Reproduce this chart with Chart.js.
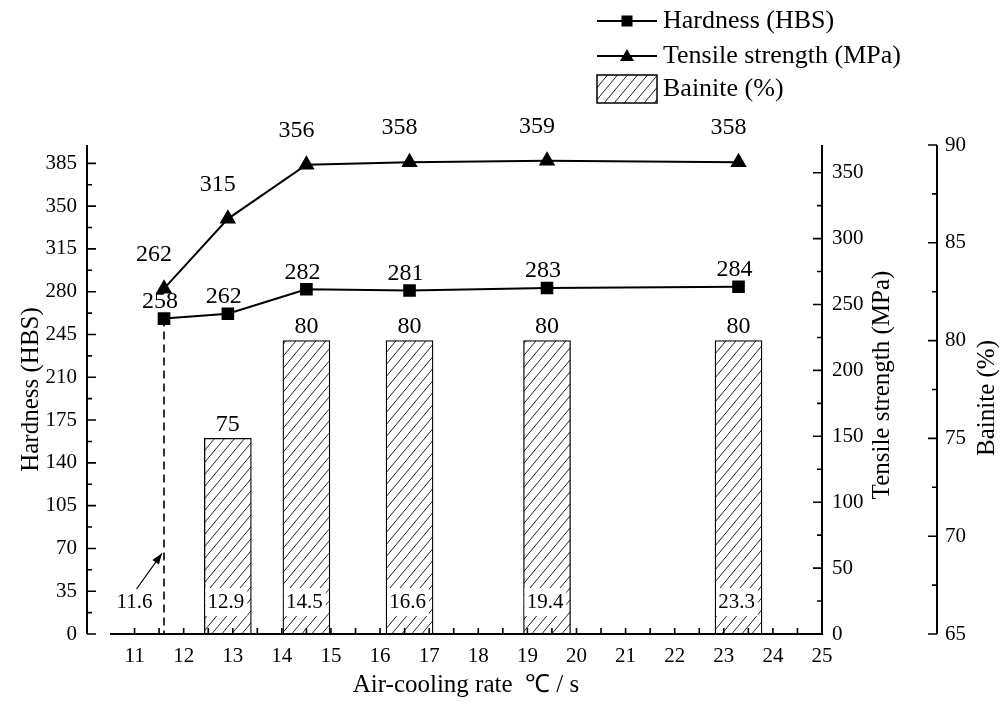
<!DOCTYPE html>
<html><head><meta charset="utf-8">
<script src="https://cdn.jsdelivr.net/npm/chart.js@4.4.0/dist/chart.umd.min.js"></script>
<style>html,body{margin:0;padding:0;background:#fff;}#wrap{width:1004px;height:702px;position:relative;}</style>
</head><body><div id="wrap"><canvas id="c"></canvas></div>
<script>
// ---- data ----
const coolingRates = [11.6, 12.9, 14.5, 16.6, 19.4, 23.3];
const hardness = [258, 262, 282, 281, 283, 284];
const tensile = [262, 315, 356, 358, 359, 358];
const bainiteRates = [12.9, 14.5, 16.6, 19.4, 23.3];
const bainite = [75, 80, 80, 80, 80];
const xTickValues = [11, 12, 13, 14, 15, 16, 17, 18, 19, 20, 21, 22, 23, 24, 25];
const hardnessTicks = [0, 35, 70, 105, 140, 175, 210, 245, 280, 315, 350, 385];
const tensileTicks = [0, 50, 100, 150, 200, 250, 300, 350];
const bainiteTicks = [65, 70, 75, 80, 85, 90];
const seriesNames = ['Hardness (HBS)', 'Tensile strength (MPa)', 'Bainite (%)'];

const FONT = "'Liberation Serif','Times New Roman',serif";

function makeHatch() {
  const w = 10, h = 12;
  const c = document.createElement('canvas'); c.width = w; c.height = h;
  const g = c.getContext('2d');
  g.fillStyle = '#fff'; g.fillRect(0, 0, w, h);
  g.strokeStyle = '#222'; g.lineWidth = 1;
  g.beginPath();
  g.moveTo(0, h); g.lineTo(w, 0);
  g.moveTo(-w, h); g.lineTo(0, 0);
  g.moveTo(w, h); g.lineTo(2 * w, 0);
  g.stroke();
  return g.createPattern(c, 'repeat');
}
const hatch = makeHatch();

function fixTicks(values) { return s => { s.ticks = values.map(v => ({ value: v })); }; }

const decor = {
  id: 'decor',
  beforeDatasetsDraw(chart) {
    const { ctx, chartArea: a } = chart;
    const p = chart.getDatasetMeta(0).data[0];
    ctx.save();
    ctx.strokeStyle = '#000'; ctx.lineWidth = 1.6; ctx.setLineDash([8, 5]);
    ctx.beginPath(); ctx.moveTo(p.x, p.y); ctx.lineTo(p.x, a.bottom); ctx.stroke();
    ctx.restore();
  },
  afterDraw(chart) {
    const { ctx, chartArea: a, scales } = chart;
    const sx = scales.x, sy = scales.y, sy2 = scales.y2, sy3 = scales.y3;
    const leftX = a.left - 23;
    ctx.save();
    ctx.strokeStyle = '#000'; ctx.fillStyle = '#000'; ctx.lineWidth = 2; ctx.setLineDash([]);
    // axis lines
    ctx.beginPath();
    ctx.moveTo(leftX, a.top); ctx.lineTo(leftX, a.bottom);
    ctx.moveTo(a.left, a.bottom); ctx.lineTo(a.right, a.bottom);
    ctx.moveTo(a.right, a.top); ctx.lineTo(a.right, a.bottom + 1);
    ctx.moveTo(sy3.left, a.top); ctx.lineTo(sy3.left, a.bottom);
    ctx.stroke();
    // ticks
    ctx.lineWidth = 1.6;
    function vTicks(scale, x, dir, major, minorStep) {
      ctx.beginPath();
      major.forEach(v => { const y = scale.getPixelForValue(v); ctx.moveTo(x, y); ctx.lineTo(x + dir * 9, y); });
      major.forEach(v => {
        const m = v + minorStep;
        if (m < scale.max) { const y = scale.getPixelForValue(m); ctx.moveTo(x, y); ctx.lineTo(x + dir * 5, y); }
      });
      ctx.stroke();
    }
    vTicks(sy, leftX, 1, hardnessTicks, 17.5);
    vTicks(sy2, a.right, -1, tensileTicks, 25);
    vTicks(sy3, sy3.left, -1, bainiteTicks, 2.5);
    ctx.beginPath();
    xTickValues.forEach(v => {
      [v, v - 0.5].forEach(t => {
        if (t > sx.min && t < sx.max) { const x = sx.getPixelForValue(t); ctx.moveTo(x, a.bottom); ctx.lineTo(x, a.bottom - 6); }
      });
    });
    ctx.stroke();

    // right axis titles (rotated, read bottom-to-top)
    ctx.font = `25px ${FONT}`; ctx.textAlign = 'center'; ctx.textBaseline = 'middle';
    ctx.save(); ctx.translate(882, 385); ctx.rotate(-Math.PI / 2); ctx.fillText('Tensile strength (MPa)', 0, 0); ctx.restore();
    ctx.save(); ctx.translate(987, 398); ctx.rotate(-Math.PI / 2); ctx.fillText('Bainite (%)', 0, 0); ctx.restore();

    // value labels
    ctx.font = `24px ${FONT}`;
    chart.getDatasetMeta(0).data.forEach((p, i) => ctx.fillText(String(hardness[i]), p.x - 4, p.y - 17));
    chart.getDatasetMeta(1).data.forEach((p, i) => ctx.fillText(String(tensile[i]), p.x - 10, p.y - 34));
    chart.getDatasetMeta(2).data.forEach((b, i) => ctx.fillText(String(bainite[i]), b.x, b.y - 14));

    // rate labels inside bars
    ctx.font = `21px ${FONT}`;
    const ly = a.bottom - 32;
    chart.getDatasetMeta(2).data.forEach((b, i) => {
      const txt = bainiteRates[i].toFixed(1);
      const w = ctx.measureText(txt).width;
      const left = b.x - b.width / 2 + 1;
      ctx.fillStyle = '#fff';
      ctx.fillRect(left, ly - 14, (b.x + w / 2 + 1) - left, 28);
      ctx.fillStyle = '#000';
      ctx.fillText(txt, b.x - 2, ly);
    });
    // 11.6 annotation with arrow
    const p0 = chart.getDatasetMeta(0).data[0];
    const lx = sx.getPixelForValue(11.0);
    ctx.fillText(coolingRates[0].toFixed(1), lx, ly);
    const tx = p0.x - 2, ty = sy.getPixelForValue(66);
    const fx = lx + 2, fy = ly - 13;
    ctx.lineWidth = 1.2;
    ctx.beginPath(); ctx.moveTo(fx, fy); ctx.lineTo(tx, ty); ctx.stroke();
    const ang = Math.atan2(ty - fy, tx - fx);
    ctx.beginPath();
    ctx.moveTo(tx, ty);
    ctx.lineTo(tx - 11 * Math.cos(ang) + 4 * Math.sin(ang), ty - 11 * Math.sin(ang) - 4 * Math.cos(ang));
    ctx.lineTo(tx - 11 * Math.cos(ang) - 4 * Math.sin(ang), ty - 11 * Math.sin(ang) + 4 * Math.cos(ang));
    ctx.closePath(); ctx.fill();

    // legend
    const lgX = 597, lgW = 60, txtX = 663;
    const rows = [21, 56, 89];
    ctx.lineWidth = 2;
    ctx.beginPath(); ctx.moveTo(lgX, rows[0]); ctx.lineTo(lgX + lgW, rows[0]); ctx.stroke();
    ctx.fillRect(lgX + lgW / 2 - 5.5, rows[0] - 5.5, 11, 11);
    ctx.beginPath(); ctx.moveTo(lgX, rows[1]); ctx.lineTo(lgX + lgW, rows[1]); ctx.stroke();
    ctx.beginPath();
    ctx.moveTo(lgX + lgW / 2, rows[1] - 7); ctx.lineTo(lgX + lgW / 2 + 7, rows[1] + 5); ctx.lineTo(lgX + lgW / 2 - 7, rows[1] + 5);
    ctx.closePath(); ctx.fill();
    ctx.fillStyle = hatch; ctx.fillRect(lgX, rows[2] - 14, lgW, 28);
    ctx.lineWidth = 1.5; ctx.strokeRect(lgX, rows[2] - 14, lgW, 28);
    ctx.fillStyle = '#000';
    ctx.font = `26px ${FONT}`; ctx.textAlign = 'left';
    seriesNames.forEach((n, i) => ctx.fillText(n, txtX, rows[i]));
    ctx.restore();
  }
};

const tickFont = { family: FONT, size: 21 };

new Chart(document.getElementById('c'), {
  data: {
    datasets: [
      { type: 'line', label: seriesNames[0], data: coolingRates.map((x, i) => ({ x, y: hardness[i] })), yAxisID: 'y',
        borderColor: '#000', backgroundColor: '#000', borderWidth: 2, pointStyle: 'rect', pointRadius: 7.5, tension: 0, order: 1 },
      { type: 'line', label: seriesNames[1], data: coolingRates.map((x, i) => ({ x, y: tensile[i] })), yAxisID: 'y2',
        borderColor: '#000', backgroundColor: '#000', borderWidth: 2, pointStyle: 'triangle', pointRadius: 7.5, tension: 0, order: 1 },
      { type: 'bar', label: seriesNames[2], data: bainiteRates.map((x, i) => ({ x, y: bainite[i] })), yAxisID: 'y3',
        backgroundColor: hatch, borderColor: '#000', borderWidth: 1.3, barThickness: 47, order: 2 }
    ]
  },
  options: {
    responsive: true, maintainAspectRatio: false, animation: false,
    layout: { padding: { top: 145, left: 0, right: 0, bottom: 0 } },
    plugins: { legend: { display: false }, tooltip: { enabled: false } },
    scales: {
      x: { type: 'linear', position: 'bottom', min: 10.5, max: 25, offset: false,
        afterBuildTicks: fixTicks(xTickValues), afterFit: s => { s.height = 68; },
        grid: { display: false, drawTicks: false, offset: false }, border: { display: false },
        ticks: { font: tickFont, color: '#000', padding: 10, maxRotation: 0, autoSkip: false },
        title: { display: true, text: 'Air-cooling rate  ℃ / s', color: '#000', font: { family: FONT, size: 25 }, padding: { top: 0, bottom: 2 } } },
      y: { type: 'linear', position: 'left', min: 0, max: 400,
        afterBuildTicks: fixTicks(hardnessTicks), afterFit: s => { s.width = 110; },
        grid: { display: false, drawTicks: false }, border: { display: false },
        ticks: { font: tickFont, color: '#000', padding: 33, autoSkip: false },
        title: { display: true, text: 'Hardness (HBS)', color: '#000', font: { family: FONT, size: 25 }, padding: { top: 16, bottom: 0 } } },
      y2: { type: 'linear', position: 'right', min: 0, max: 371, weight: 0,
        afterBuildTicks: fixTicks(tensileTicks), afterFit: s => { s.width = 115; },
        grid: { display: false, drawTicks: false }, border: { display: false },
        ticks: { font: tickFont, color: '#000', padding: 10, autoSkip: false } },
      y3: { type: 'linear', position: 'right', min: 65, max: 90, weight: 1,
        afterBuildTicks: fixTicks(bainiteTicks), afterFit: s => { s.width = 67; },
        grid: { display: false, drawTicks: false }, border: { display: false },
        ticks: { font: tickFont, color: '#000', padding: 8, autoSkip: false } }
    }
  },
  plugins: [decor]
});
</script></body></html>
